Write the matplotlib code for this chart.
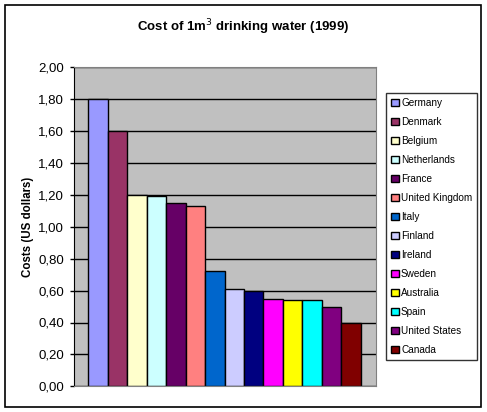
import numpy as np
import matplotlib.pyplot as plt
from matplotlib.patches import Rectangle

countries = ['Germany', 'Denmark', 'Belgium', 'Netherlands', 'France',
             'United Kingdom', 'Italy', 'Finland', 'Ireland', 'Sweden',
             'Australia', 'Spain', 'United States', 'Canada']
costs = [1.80, 1.60, 1.20, 1.19, 1.15, 1.13, 0.72, 0.61, 0.60, 0.55,
         0.54, 0.54, 0.50, 0.40]
colors = ['#9999FF', '#993366', '#FFFFCC', '#CCFFFF', '#660066', '#FF8080',
          '#0066CC', '#CCCCFF', '#000080', '#FF00FF', '#FFFF00', '#00FFFF',
          '#800080', '#800000']
yticks = np.arange(0, 2.01, 0.2)

plt.rcParams['font.family'] = ['Liberation Sans', 'DejaVu Sans']

W, H = 487, 412
fig = plt.figure(figsize=(W / 100, H / 100), dpi=100)

# outer chart border
fig.patches.append(Rectangle((5 / W, 1 - 407 / H), 476 / W, 402 / H,
                             transform=fig.transFigure, fill=False,
                             edgecolor='black', linewidth=1.2))

ax = fig.add_axes([74 / W, 1 - 386.3 / H, 301.7 / W, 319 / H])
ax.set_facecolor('#C0C0C0')
ax.set_axisbelow(True)

x = np.arange(len(countries))
for i in range(len(countries)):
    ax.bar(x[i], costs[i], width=1, color=colors[i], edgecolor='black',
           linewidth=1, label=countries[i])

ax.set_xlim(-1.235, 14.27)
ax.set_ylim(0, 2.0)
ax.set_yticks(yticks)
ax.set_yticklabels([f'{v:.2f}'.replace('.', ',') for v in yticks], fontsize=9.5)
ax.set_xticks([])
ax.yaxis.grid(True, color='black', linewidth=1)
ax.tick_params(axis='y', direction='out', length=3, width=1, pad=4)

for side in ['top', 'right', 'bottom']:
    ax.spines[side].set_color('#808080')
ax.spines['left'].set_color('black')

ax.set_ylabel('Costs (US dollars)', fontsize=8.3, fontweight='bold', labelpad=3)

fig.text(243 / W, 1 - 27 / H, 'Cost of 1m$^3$ drinking water (1999)',
         ha='center', va='center', fontsize=9.5, fontweight='bold')

leg = fig.legend(loc='upper left', bbox_to_anchor=(386 / W, 1 - 93.3 / H),
                 borderaxespad=0, fontsize=7.2, frameon=True, fancybox=False,
                 edgecolor='black', handlelength=0.75, handleheight=0.75,
                 handletextpad=0.25, labelspacing=0.9, borderpad=0.5)
leg.get_frame().set_linewidth(1)

fig.savefig('out.png', dpi=100)
